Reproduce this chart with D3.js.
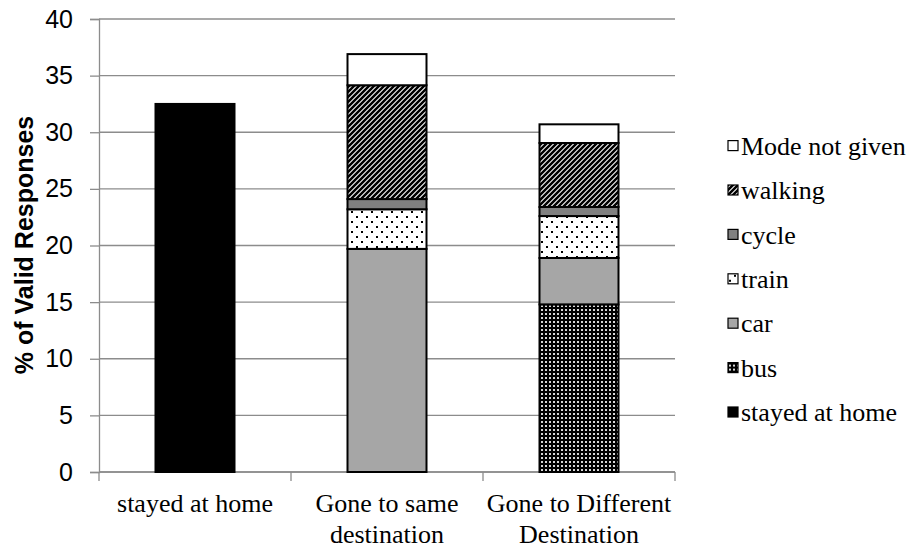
<!DOCTYPE html>
<html>
<head>
<meta charset="utf-8">
<script src="https://cdn.jsdelivr.net/npm/d3@7"></script>
<style>
  html, body { margin: 0; padding: 0; background: #fff; }
  svg { display: block; }
</style>
</head>
<body>
<svg id="chart" width="908" height="550"></svg>
<script>
// Categories (x axis) and stacked series, bottom to top
const categories = ["stayed at home", "Gone to same destination", "Gone to Different Destination"];
const categoryLines = [["stayed at home"], ["Gone to same", "destination"], ["Gone to Different", "Destination"]];
const seriesNames = ["stayed at home", "bus", "car", "train", "cycle", "walking", "Mode not given"];

const stayedAtHome = [32.5, 0, 0];
const bus          = [0, 0, 14.8];
const car          = [0, 19.7, 4.1];
const train        = [0, 3.5, 3.7];
const cycle        = [0, 0.9, 0.8];
const walking      = [0, 10.05, 5.65];
const modeNotGiven = [0, 2.75, 1.65];

const yTicks = [0, 5, 10, 15, 20, 25, 30, 35, 40];

const seriesValues = [stayedAtHome, bus, car, train, cycle, walking, modeNotGiven];
const rows = categories.map((c, i) => {
  const r = { category: c };
  seriesNames.forEach((s, k) => { r[s] = seriesValues[k][i]; });
  return r;
});

const svg = d3.select("#chart");
const plot = { left: 99, right: 675, top: 19, bottom: 472 };
const serif = "'Liberation Serif', 'Times New Roman', serif";
const sans = "'Liberation Sans', Arial, sans-serif";
const axisGrey = "#8c8c8c";

const x = d3.scaleBand().domain(categories).range([plot.left, plot.right]).padding(0);
const y = d3.scaleLinear().domain([0, 40]).range([plot.bottom, plot.top]);

// Fill patterns
const defs = svg.append("defs");

const pBus = defs.append("pattern").attr("id", "p-bus").attr("patternUnits", "userSpaceOnUse")
  .attr("width", 4).attr("height", 4);
pBus.append("rect").attr("width", 4).attr("height", 4).attr("fill", "#000");
pBus.append("rect").attr("x", 1).attr("y", 1).attr("width", 2).attr("height", 2).attr("fill", "#d8d8d8");

const pTrain = defs.append("pattern").attr("id", "p-train").attr("patternUnits", "userSpaceOnUse")
  .attr("width", 10).attr("height", 10);
pTrain.append("rect").attr("width", 10).attr("height", 10).attr("fill", "#fff");
pTrain.append("rect").attr("x", 1).attr("y", 1).attr("width", 2).attr("height", 2).attr("fill", "#000");
pTrain.append("rect").attr("x", 6).attr("y", 6).attr("width", 2).attr("height", 2).attr("fill", "#000");

const pWalk = defs.append("pattern").attr("id", "p-walk").attr("patternUnits", "userSpaceOnUse")
  .attr("width", 5).attr("height", 5);
pWalk.append("rect").attr("width", 5).attr("height", 5).attr("fill", "#fff");
pWalk.append("path").attr("d", "M-1,6 L6,-1 M-1,1 L1,-1 M4,6 L6,4")
  .attr("stroke", "#000").attr("stroke-width", 2.5);

const fills = {
  "stayed at home": "#000",
  "bus": "url(#p-bus)",
  "car": "#a6a6a6",
  "train": "url(#p-train)",
  "cycle": "#808080",
  "walking": "url(#p-walk)",
  "Mode not given": "#fff"
};

// Gridlines
svg.append("g").selectAll("line").data(yTicks).join("line")
  .attr("x1", plot.left).attr("x2", plot.right)
  .attr("y1", d => y(d)).attr("y2", d => y(d))
  .attr("stroke", axisGrey).attr("stroke-width", 1.3);

// Y axis
const yAxis = svg.append("g").attr("transform", `translate(${plot.left},0)`)
  .call(d3.axisLeft(y).tickValues(yTicks).tickSize(9).tickPadding(17));
yAxis.select(".domain").attr("stroke", axisGrey).attr("stroke-width", 1.3);
yAxis.selectAll(".tick line").attr("stroke", axisGrey).attr("stroke-width", 1.3);
yAxis.selectAll(".tick text").attr("font-family", sans)
  .attr("font-size", 25).attr("fill", "#000");

// X axis with ticks at category boundaries
const xAxisG = svg.append("g");
xAxisG.append("line").attr("x1", plot.left).attr("x2", plot.right)
  .attr("y1", y(0)).attr("y2", y(0)).attr("stroke", axisGrey).attr("stroke-width", 1.3);
const boundaries = categories.map(c => x(c)).concat([x(categories[categories.length - 1]) + x.bandwidth()]);
xAxisG.selectAll("line.tk").data(boundaries).join("line").attr("class", "tk")
  .attr("x1", d => d).attr("x2", d => d)
  .attr("y1", y(0)).attr("y2", y(0) + 9)
  .attr("stroke", axisGrey).attr("stroke-width", 1.3);
const xl = xAxisG.selectAll("text").data(categories).join("text")
  .attr("x", d => x(d) + x.bandwidth() / 2)
  .attr("y", 512)
  .attr("text-anchor", "middle")
  .attr("font-family", serif)
  .attr("font-size", 26).attr("fill", "#000");
xl.selectAll("tspan").data((d, i) => categoryLines[i]).join("tspan")
  .attr("x", function() { return d3.select(this.parentNode).attr("x"); })
  .attr("dy", (d, i) => i === 0 ? 0 : 31)
  .text(d => d);

// Stacked bars
const stacked = d3.stack().keys(seriesNames)(rows);
const barW = 79;
svg.append("g").selectAll("g").data(stacked).join("g")
  .attr("fill", d => fills[d.key])
  .selectAll("rect").data(d => d.filter(p => p[1] - p[0] > 0)).join("rect")
  .attr("x", p => x(p.data.category) + x.bandwidth() / 2 - barW / 2)
  .attr("width", barW)
  .attr("y", p => y(p[1]))
  .attr("height", p => y(p[0]) - y(p[1]))
  .attr("stroke", "#000").attr("stroke-width", 2);

// Y axis title
svg.append("text")
  .attr("transform", `translate(33,245) rotate(-90)`)
  .attr("text-anchor", "middle")
  .attr("font-family", sans)
  .attr("font-weight", "bold").attr("font-size", 25).attr("fill", "#000")
  .text("% of Valid Responses");

// Legend (top to bottom in reverse stack order), evenly spaced rows
const legendItems = seriesNames.slice().reverse();
const legendTop = 145.6, legendStep = 44.4;
const lg = svg.append("g").selectAll("g").data(legendItems).join("g")
  .attr("transform", (d, i) => `translate(728,${legendTop + i * legendStep})`);
lg.append("rect").attr("x", 0).attr("y", -5).attr("width", 10).attr("height", 10)
  .attr("fill", d => fills[d]).attr("stroke", "#000").attr("stroke-width", 1.2);
lg.append("text").attr("x", 13).attr("y", 0).attr("dy", "0.35em")
  .attr("font-family", serif)
  .attr("font-size", 26).attr("fill", "#000")
  .text(d => d);
</script>
</body>
</html>
